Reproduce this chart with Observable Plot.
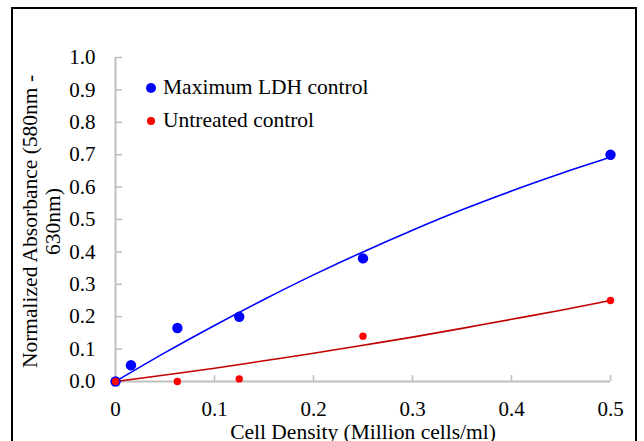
<!DOCTYPE html>
<html>
<head>
<meta charset="utf-8">
<script src="https://cdn.jsdelivr.net/npm/d3@7"></script>
<script src="https://cdn.jsdelivr.net/npm/@observablehq/plot@0.6"></script>
<style>
  html, body { margin: 0; padding: 0; background: #fff; overflow: hidden; }
  #wrap { position: relative; width: 644px; height: 441px; font-family: "Liberation Serif", serif; }
  #frame { position: absolute; left: 11px; top: 7px; width: 626px; height: 460px; border: 2px solid #000; box-sizing: border-box; pointer-events: none; }
  #chart { position: absolute; left: 0; top: 0; }
  #legend { position: absolute; left: 140px; top: 72px; font-size: 21.5px; color: #000; }
  .item { position: relative; height: 33px; line-height: 30px; padding-left: 23px; white-space: nowrap; }
  .sw { position: absolute; border-radius: 50%; }
</style>
</head>
<body>
<div id="wrap">
  <div id="chart"></div>
  <div id="frame"></div>
  <div id="legend"></div>
</div>
<script>
// Data
const seriesNames = ["Maximum LDH control", "Untreated control"];
const seriesColors = ["#0000ff", "#ff0000"];
const lineColors = ["#0000ff", "#c00000"];

const maxDensity = [0, 0.015625, 0.0625, 0.125, 0.25, 0.5];
const maxLDH = [0, 0.05, 0.165, 0.20, 0.38, 0.70];

const untreatedDensity = [0, 0.0625, 0.125, 0.25, 0.5];
const untreated = [0, 0, 0.008, 0.14, 0.25];

// Trend lines
const trendX = [0, 0.05, 0.1, 0.15, 0.2, 0.25, 0.3, 0.35, 0.4, 0.45, 0.5];
const trendMax = [0, 0.089, 0.173, 0.253, 0.329, 0.400, 0.467, 0.530, 0.588, 0.642, 0.692];
const trendUntreated = [0, 0.020, 0.041, 0.064, 0.087, 0.112, 0.137, 0.164, 0.192, 0.220, 0.250];

const xTicks = [0, 0.1, 0.2, 0.3, 0.4, 0.5];
const yTicks = [0, 0.1, 0.2, 0.3, 0.4, 0.5, 0.6, 0.7, 0.8, 0.9, 1.0];

const xTitle = "Cell Density (Million cells/ml)";
const yTitleLines = ["Normalized Absorbance (580nm -", "630nm)"];

const maxPts = maxDensity.map((x, i) => ({x, y: maxLDH[i]}));
const untPts = untreatedDensity.map((x, i) => ({x, y: untreated[i]}));
const trendMaxPts = trendX.map((x, i) => ({x, y: trendMax[i]}));
const trendUntPts = trendX.map((x, i) => ({x, y: trendUntreated[i]}));

const axisGray = "#bfbfbf";

const chart = Plot.plot({
  width: 644,
  height: 441,
  marginLeft: 115,
  marginRight: 34,
  marginTop: 57,
  marginBottom: 60,
  style: {fontFamily: "Liberation Serif, serif", fontSize: "21px", color: "#000", background: "transparent"},
  x: {domain: [0, 0.5]},
  y: {domain: [0, 1]},
  marks: [
    Plot.ruleX([0], {stroke: axisGray, strokeWidth: 2}),
    Plot.ruleY([0], {stroke: axisGray, strokeWidth: 2}),
    Plot.tickY(yTicks, {y: d => d, stroke: axisGray, strokeWidth: 1.5, insetRight: 495 - 7}),
    Plot.tickX(xTicks.slice(1), {x: d => d, stroke: axisGray, strokeWidth: 1.5, insetTop: 324 - 6}),
    Plot.axisY({ticks: yTicks, tickSize: 0, tickPadding: 20, tickFormat: d => d.toFixed(1), label: null}),
    Plot.axisX({ticks: xTicks, tickSize: 0, tickPadding: 20, tickFormat: d => d === 0 ? "0" : d.toFixed(1), label: null}),
    Plot.text([xTitle], {text: d => d, frameAnchor: "bottom", lineAnchor: "bottom", dy: 57, fontSize: 21.5}),
    Plot.text([yTitleLines[0]], {text: d => d, frameAnchor: "left", textAnchor: "middle", lineAnchor: "middle", rotate: -90, dx: -85, dy: 2, fontSize: 21.5}),
    Plot.text([yTitleLines[1]], {text: d => d, frameAnchor: "left", textAnchor: "middle", lineAnchor: "middle", rotate: -90, dx: -62, dy: 2, fontSize: 21.5}),
    Plot.line(trendMaxPts, {x: "x", y: "y", stroke: lineColors[0], strokeWidth: 1.6, curve: "natural"}),
    Plot.line(trendUntPts, {x: "x", y: "y", stroke: lineColors[1], strokeWidth: 1.6, curve: "natural"}),
    Plot.dot(maxPts, {x: "x", y: "y", r: 5.2, fill: seriesColors[0], stroke: "none"}),
    Plot.dot(untPts, {x: "x", y: "y", r: 3.7, fill: seriesColors[1], stroke: "none"})
  ]
});
document.getElementById("chart").appendChild(chart);

const legend = document.getElementById("legend");
const sizes = [10.4, 7.4];
seriesNames.forEach((name, i) => {
  const item = document.createElement("div");
  item.className = "item";
  const sw = document.createElement("span");
  sw.className = "sw";
  sw.style.width = sizes[i] + "px";
  sw.style.height = sizes[i] + "px";
  sw.style.background = seriesColors[i];
  sw.style.left = (11 - sizes[i] / 2) + "px";
  sw.style.top = (16 - sizes[i] / 2) + "px";
  item.appendChild(sw);
  item.appendChild(document.createTextNode(name));
  legend.appendChild(item);
});
</script>
</body>
</html>
